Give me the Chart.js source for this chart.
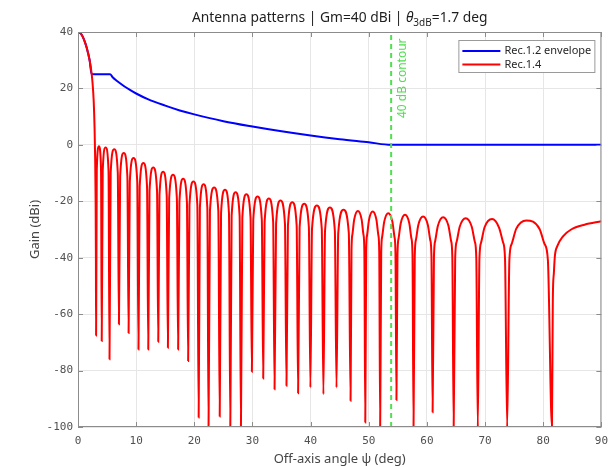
<!DOCTYPE html>
<html><head><meta charset="utf-8">
<script src="https://cdn.jsdelivr.net/npm/chart.js@4.4.1/dist/chart.umd.min.js"></script>
<style>html,body{margin:0;padding:0;background:#fff}canvas{display:block}</style>
</head><body>
<canvas id="c" width="616" height="467" style="width:616px;height:467px"></canvas>
<script>
// ---- tick labels ----
const xTicks = [0, 10, 20, 30, 40, 50, 60, 70, 80, 90];
const yTicks = [-100, -80, -60, -40, -20, 0, 20, 40];

// ---- labels ----
const seriesLabels = ['Rec.1.2 envelope', 'Rec.1.4'];
const contourLabel = '40 dB contour';
const titleMain = 'Antenna patterns | Gm=40 dBi | ';
const titleTheta = 'θ';
const titleSub = '3dB';
const titleTail = '=1.7 deg';
const xTitle = 'Off-axis angle ψ (deg)';
const yTitle = 'Gain (dBi)';

// ---- Rec.1.2 envelope ----
const envPsi  = [0, 0.5, 1, 1.5, 2, 2.35, 5.5, 6, 6.5, 7, 8, 9, 10, 12, 15, 17.5, 20, 25, 30, 35, 40, 45, 50, 53.85, 90];
const envGain = [40, 39.4, 37.5, 34.4, 30, 25, 25, 23.9, 23.0, 22.2, 20.7, 19.4, 18.2, 16.2, 13.9, 12.2, 10.8, 8.4, 6.5, 4.8, 3.3, 2.0, 0.9, 0, 0];

// ---- Rec.1.4 pattern: samples (main lobe, nulls, lobe flanks, lobe peaks) ----
const patPsi = [
  0, 0.5, 1, 1.5, 2, 2.3, 2.5, 2.7, 2.85, 2.95, 3.03, 3.08,
  3.11, 3.23, 3.6, 3.96,
  4.08, 4.25, 4.75, 5.25,
  5.42, 5.62, 6.23, 6.84,
  7.04, 7.25, 7.87, 8.49,
  8.70, 8.91, 9.55, 10.19,
  10.40, 10.61, 11.24, 11.87,
  12.08, 12.30, 12.94, 13.59,
  13.80, 14.01, 14.63, 15.25,
  15.46, 15.68, 16.34, 17.00,
  17.22, 17.44, 18.08, 18.73,
  18.94, 19.17, 19.85, 20.52,
  20.75, 20.96, 21.6, 22.24,
  22.45, 22.69, 23.41, 24.13,
  24.37, 24.60, 25.28, 25.96,
  26.19, 26.42, 27.1, 27.79,
  28.02, 28.26, 28.96, 29.67,
  29.90, 30.14, 30.88, 31.61,
  31.85, 32.09, 32.82, 33.56,
  33.80, 34.06, 34.82, 35.59,
  35.85, 36.10, 36.85, 37.60,
  37.85, 38.11, 38.9, 39.70,
  39.96, 40.24, 41.08, 41.92,
  42.20, 42.48, 43.32, 44.17,
  44.45, 44.75, 45.66, 46.57,
  46.87, 47.03, 47.19, 47.50, 48.13, 48.77, 49.08, 49.24,
  49.40, 49.56, 49.72, 50.04, 50.68, 51.32, 51.64, 51.80,
  51.96, 52.14, 52.31, 52.66, 53.36, 54.06, 54.41, 54.59,
  54.76, 54.94, 55.13, 55.50, 56.23, 56.97, 57.33, 57.52,
  57.70, 57.91, 58.11, 58.52, 59.34, 60.16, 60.57, 60.78,
  60.98, 61.21, 61.43, 61.89, 62.79, 63.70, 64.15, 64.37,
  64.60, 64.86, 65.12, 65.64, 66.67, 67.71, 68.23, 68.49,
  68.75, 69.03, 69.32, 69.90, 71.2, 72.4, 73.10, 73.43,
  73.80, 74.18, 74.58, 75.35, 77.1, 79.37, 80.22, 80.8,
  81.50, 81.65, 81.83, 82.0, 82.4, 83.4, 84.8, 87.1, 90
];
const patGain = [
  40, 39.4, 37.5, 34.4, 30, 26, 22, 15.5, 6, -5, -20, -40,
  -67.6, -8.8, -0.5, -8.8,
  -69.5, -9.2, -0.9, -9.2,
  -76.0, -9.9, -1.6, -9.9,
  -63.6, -11.2, -2.9, -11.2,
  -66.7, -13.0, -4.7, -13.0,
  -72.5, -14.7, -6.4, -14.7,
  -72.5, -16.3, -8.0, -16.3,
  -69.8, -17.8, -9.5, -17.8,
  -71.9, -18.9, -10.6, -18.9,
  -72.5, -20.3, -12.0, -20.3,
  -76.6, -21.3, -13.0, -21.3,
  -96.6, -22.3, -14.0, -22.3,
  -100, -23.4, -15.1, -23.4,
  -96.3, -24.2, -15.9, -24.2,
  -100, -25.1, -16.8, -25.1,
  -100, -25.8, -17.5, -25.8,
  -80.4, -26.6, -18.3, -26.6,
  -82.8, -27.3, -19.0, -27.3,
  -86.6, -28.0, -19.7, -28.0,
  -85.4, -28.6, -20.3, -28.6,
  -88.0, -29.2, -20.9, -29.2,
  -86.0, -29.8, -21.5, -29.8,
  -88.4, -30.5, -22.2, -30.5,
  -86.0, -31.3, -23.0, -31.3,
  -90.7, -37.4, -31.7, -26.4, -23.4, -26.4, -31.7, -37.4,
  -98.4, -37.6, -31.9, -26.6, -23.6, -26.6, -31.9, -37.6,
  -100, -38.2, -32.5, -27.2, -24.2, -27.2, -32.5, -38.2,
  -90.4, -38.8, -33.1, -27.8, -24.8, -27.8, -33.1, -38.8,
  -100, -39.4, -33.7, -28.4, -25.4, -28.4, -33.7, -39.4,
  -94.8, -39.7, -34.0, -28.7, -25.7, -28.7, -34.0, -39.7,
  -100, -40.0, -34.3, -29.0, -26.0, -29.0, -34.3, -40.0,
  -100, -40.3, -34.6, -29.3, -26.3, -29.3, -34.6, -40.3,
  -100, -40.8, -35.1, -29.8, -26.8, -29.8, -35.1, -40.8,
  -100, -55, -45.4, -39.5, -36.0, -32.4, -30.0, -28.3, -27.1
];

// ---- 40 dB contour marker ----
const contourPsi = 53.85;
const contourSpan = [-100, 40];

const toXY = (xs, ys) => xs.map((x, i) => ({x: x, y: ys[i]}));

const C_BLUE = '#0000ff', C_RED = '#ff0000', C_GREEN = '#4fe04f';
const AX = '#8c8c8c', TXT = '#505050';

const decor = {
  id: 'decor',
  afterDatasetsDraw(chart) {
    const {ctx, chartArea: ca, scales} = chart;
    ctx.save();
    // frame
    ctx.strokeStyle = AX; ctx.lineWidth = 1;
    ctx.strokeRect(ca.left + 0.5, ca.top + 0.5, ca.right - ca.left - 1, ca.bottom - ca.top - 1);
    // inward ticks
    ctx.beginPath();
    xTicks.forEach(v => {
      const px = Math.round(scales.x.getPixelForValue(v)) + 0.5;
      ctx.moveTo(px, ca.bottom); ctx.lineTo(px, ca.bottom - 5);
      ctx.moveTo(px, ca.top); ctx.lineTo(px, ca.top + 5);
    });
    yTicks.forEach(v => {
      const py = Math.round(scales.y.getPixelForValue(v)) + 0.5;
      ctx.moveTo(ca.left, py); ctx.lineTo(ca.left + 5, py);
      ctx.moveTo(ca.right, py); ctx.lineTo(ca.right - 5, py);
    });
    ctx.stroke();
    // contour label
    const gx = scales.x.getPixelForValue(contourPsi);
    ctx.translate(gx + 11.5, ca.top + 86);
    ctx.rotate(-Math.PI / 2);
    ctx.fillStyle = C_GREEN;
    ctx.font = '12px "Noto Sans"';
    ctx.textAlign = 'left'; ctx.textBaseline = 'middle';
    ctx.fillText(contourLabel, 0, 0);
    ctx.setTransform(1, 0, 0, 1, 0, 0);
    // legend
    const lx = ca.right - 143, ly = ca.top + 8, lw = 136, lh = 32;
    ctx.fillStyle = '#fff';
    ctx.fillRect(lx, ly, lw, lh);
    ctx.strokeStyle = '#9a9a9a';
    ctx.strokeRect(lx + 0.5, ly + 0.5, lw, lh);
    const items = [[seriesLabels[0], C_BLUE], [seriesLabels[1], C_RED]];
    ctx.font = '11px "Noto Sans"';
    ctx.textAlign = 'left'; ctx.textBaseline = 'middle';
    items.forEach((it, i) => {
      const yy = ly + 11 + i * 13.5;
      ctx.strokeStyle = it[1]; ctx.lineWidth = 2;
      ctx.beginPath(); ctx.moveTo(lx + 4, yy); ctx.lineTo(lx + 42, yy); ctx.stroke();
      ctx.fillStyle = '#262626';
      ctx.fillText(it[0], lx + 46, yy);
    });
    ctx.restore();
  },
  afterDraw(chart) {
    const {ctx, chartArea: ca} = chart;
    ctx.save();
    // title
    const parts = [[titleMain, '13.8px "Noto Sans"', 0], [titleTheta, 'italic 13.8px "Noto Sans"', 0],
                   [titleSub, '10px "Noto Sans"', 4], [titleTail, '13.8px "Noto Sans"', 0]];
    let w = 0;
    parts.forEach(p => { ctx.font = p[1]; w += ctx.measureText(p[0]).width; });
    let x = (ca.left + ca.right) / 2 - w / 2;
    ctx.fillStyle = '#1e1e1e'; ctx.textBaseline = 'alphabetic'; ctx.textAlign = 'left';
    parts.forEach(p => { ctx.font = p[1]; ctx.fillText(p[0], x, 22 + p[2]); x += ctx.measureText(p[0]).width; });
    // axis titles
    ctx.fillStyle = '#454545';
    ctx.font = '13px "Noto Sans"';
    ctx.textAlign = 'center'; ctx.textBaseline = 'middle';
    ctx.fillText(xTitle, (ca.left + ca.right) / 2, 459);
    ctx.translate(35, (ca.top + ca.bottom) / 2);
    ctx.rotate(-Math.PI / 2);
    ctx.fillText(yTitle, 0, 0);
    ctx.restore();
  }
};

const tickFont = {family: '"DejaVu Sans Mono"', size: 11};

new Chart(document.getElementById('c'), {
  type: 'line',
  data: {
    datasets: [
      {label: contourLabel, data: toXY([contourPsi, contourPsi], contourSpan), borderColor: C_GREEN,
       borderWidth: 2, borderDash: [5, 4], pointRadius: 0, fill: false},
      {label: seriesLabels[1], data: toXY(patPsi, patGain), borderColor: C_RED, borderWidth: 2,
       pointRadius: 0, fill: false, cubicInterpolationMode: 'monotone'},
      {label: seriesLabels[0], data: toXY(envPsi, envGain), borderColor: C_BLUE, borderWidth: 2,
       pointRadius: 0, fill: false, cubicInterpolationMode: 'monotone'}
    ]
  },
  options: {
    responsive: false, animation: false, devicePixelRatio: 1,
    layout: {padding: {left: 0, top: 32, right: 12, bottom: 0}},
    plugins: {legend: {display: false}, title: {display: false}, tooltip: {enabled: false}},
    scales: {
      x: {type: 'linear', min: 0, max: 90,
          afterBuildTicks: s => { s.ticks = xTicks.map(v => ({value: v})); },
          afterFit: s => { s.height = 40; },
          grid: {color: '#e6e6e6', drawTicks: false}, border: {display: false},
          ticks: {font: tickFont, color: TXT, padding: 8, maxRotation: 0}},
      y: {type: 'linear', min: -100, max: 40,
          afterBuildTicks: s => { s.ticks = yTicks.map(v => ({value: v})); },
          afterFit: s => { s.width = 78; },
          grid: {color: '#e6e6e6', drawTicks: false}, border: {display: false},
          ticks: {font: tickFont, color: TXT, padding: 5}}
    }
  },
  plugins: [decor]
});
</script>
</body></html>
